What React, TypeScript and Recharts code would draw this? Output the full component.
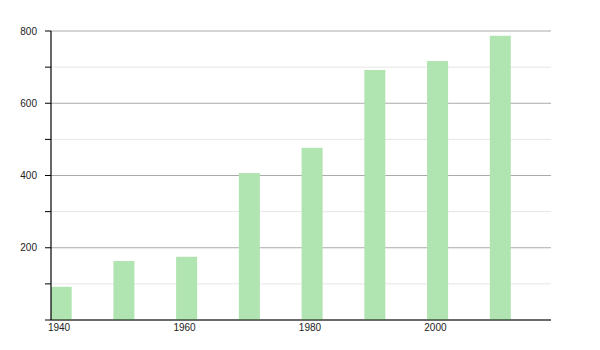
import React from 'react';
import { BarChart, Bar, XAxis, YAxis, CartesianGrid } from 'recharts';

const years = [1940, 1950, 1960, 1970, 1980, 1990, 2000, 2010];
const values = [92, 163, 175, 407, 477, 692, 717, 787];
const xTicks = [1940, 1960, 1980, 2000];
const yTicks = [0, 100, 200, 300, 400, 500, 600, 700, 800];

const data = years.map((y, i) => ({ year: y, value: values[i] }));

const gridLine = (p: any) => {
  const minor = p.index % 2 === 1;
  return (
    <line
      key={'g' + p.index}
      x1={p.x1}
      y1={p.y1}
      x2={p.x2}
      y2={p.y2}
      stroke={minor ? '#e6e6e6' : '#aaaaaa'}
      strokeWidth={1}
      fill="none"
    />
  );
};

export default function App() {
  return (
    <BarChart
      width={592}
      height={342}
      data={data}
      margin={{ top: 23, right: 49, bottom: 0, left: 0 }}
      style={{ fontFamily: '"Liberation Sans", Arial, sans-serif' }}
    >
      <CartesianGrid vertical={false} horizontal={gridLine} />
      <XAxis
        dataKey="year"
        type="number"
        domain={[1938.4, 2018.1]}
        allowDataOverflow
        ticks={xTicks}
        tickLine={false}
        tickSize={2}
        tickMargin={2}
        height={30}
        axisLine={{ stroke: '#000', strokeWidth: 1.2 }}
        tick={{ fill: '#222', fontSize: 10, dx: -2 }}
      />
      <YAxis
        type="number"
        domain={[0, 800]}
        ticks={yTicks}
        interval={0}
        width={43}
        tickSize={6}
        tickMargin={8}
        tickFormatter={(v: number) => (v > 0 && v % 200 === 0 ? String(v) : '')}
        axisLine={{ stroke: '#000', strokeWidth: 1.2 }}
        tickLine={{ stroke: '#000' }}
        tick={{ fill: '#222', fontSize: 10 }}
      />
      <Bar dataKey="value" fill="#b0e4b0" barSize={21} isAnimationActive={false} />
    </BarChart>
  );
}
